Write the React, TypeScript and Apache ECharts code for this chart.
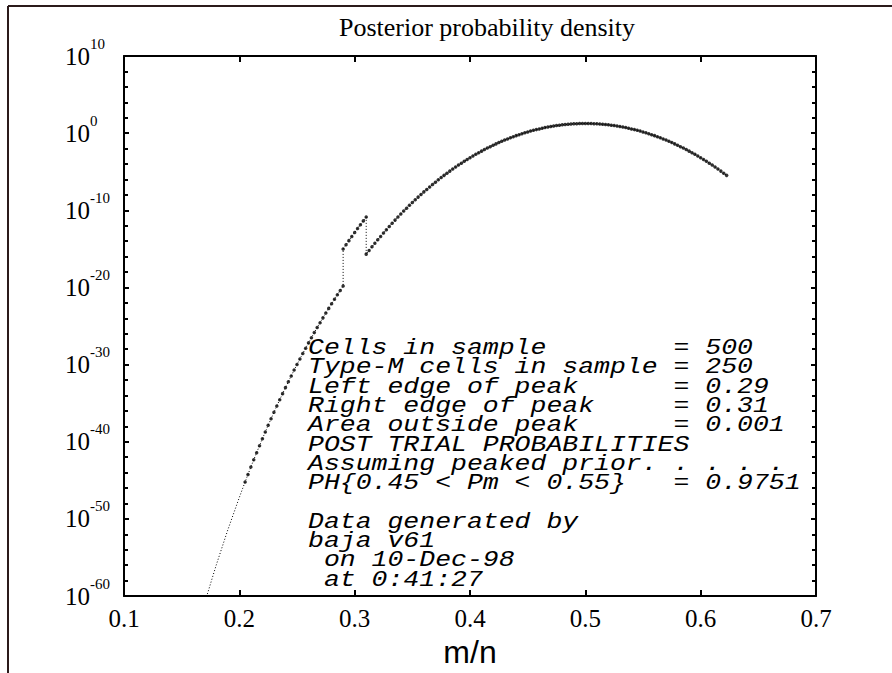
import React, { useEffect, useRef } from "react";
import * as echarts from "echarts";

// m/n grid and log10 of the posterior density
const tailX = [0.17, 0.18, 0.19, 0.2];
const tailY = [-60.85, -55.96, -51.42, -47.21];

const leftX = [
  0.205, 0.2075, 0.21, 0.2125, 0.215, 0.2175, 0.22, 0.2225, 0.225, 0.2275,
  0.23, 0.2325, 0.235, 0.2375, 0.24, 0.2425, 0.245, 0.2475, 0.25, 0.2525,
  0.255, 0.2575, 0.26, 0.2625, 0.265, 0.2675, 0.27, 0.2725, 0.275, 0.2775,
  0.28, 0.2825, 0.285, 0.2875, 0.29,
];
const leftY = [
  -45.2, -44.23, -43.27, -42.33, -41.41, -40.5, -39.61, -38.73, -37.86, -37.02,
  -36.18, -35.36, -34.55, -33.76, -32.98, -32.21, -31.46, -30.71, -29.98, -29.27,
  -28.56, -27.87, -27.18, -26.51, -25.85, -25.2, -24.56, -23.94, -23.32, -22.71,
  -22.11, -21.52, -20.95, -20.38, -19.82,
];

const peakX = [0.29, 0.2925, 0.295, 0.2975, 0.3, 0.3025, 0.305, 0.3075, 0.31];
const peakY = [-15.02, -14.47, -13.93, -13.4, -12.88, -12.37, -11.86, -11.37, -10.88];

const rightX = [
  0.31, 0.3125, 0.315, 0.3175, 0.32, 0.3225, 0.325, 0.3275, 0.33, 0.3325,
  0.335, 0.3375, 0.34, 0.3425, 0.345, 0.3475, 0.35, 0.3525, 0.355, 0.3575,
  0.36, 0.3625, 0.365, 0.3675, 0.37, 0.3725, 0.375, 0.3775, 0.38, 0.3825,
  0.385, 0.3875, 0.39, 0.3925, 0.395, 0.3975, 0.4, 0.4025, 0.405, 0.4075,
  0.41, 0.4125, 0.415, 0.4175, 0.42, 0.4225, 0.425, 0.4275, 0.43, 0.4325,
  0.435, 0.4375, 0.44, 0.4425, 0.445, 0.4475, 0.45, 0.4525, 0.455, 0.4575,
  0.46, 0.4625, 0.465, 0.4675, 0.47, 0.4725, 0.475, 0.4775, 0.48, 0.4825,
  0.485, 0.4875, 0.49, 0.4925, 0.495, 0.4975, 0.5, 0.5025, 0.505, 0.5075,
  0.51, 0.5125, 0.515, 0.5175, 0.52, 0.5225, 0.525, 0.5275, 0.53, 0.5325,
  0.535, 0.5375, 0.54, 0.5425, 0.545, 0.5475, 0.55, 0.5525, 0.555, 0.5575,
  0.56, 0.5625, 0.565, 0.5675, 0.57, 0.5725, 0.575, 0.5775, 0.58, 0.5825,
  0.585, 0.5875, 0.59, 0.5925, 0.595, 0.5975, 0.6, 0.6025, 0.605, 0.6075,
  0.61, 0.6125, 0.615, 0.6175, 0.62, 0.6225,
];
const rightY = [
  -15.68, -15.2, -14.73, -14.27, -13.82, -13.38, -12.94, -12.51, -12.09, -11.67,
  -11.27, -10.87, -10.48, -10.1, -9.72, -9.35, -8.99, -8.64, -8.29, -7.95,
  -7.61, -7.29, -6.97, -6.66, -6.35, -6.05, -5.76, -5.47, -5.19, -4.92,
  -4.65, -4.39, -4.14, -3.89, -3.65, -3.41, -3.18, -2.96, -2.74, -2.53,
  -2.33, -2.13, -1.93, -1.75, -1.57, -1.39, -1.22, -1.06, -0.9, -0.75,
  -0.6, -0.46, -0.32, -0.2, -0.07, 0.05, 0.16, 0.27, 0.37, 0.46,
  0.55, 0.64, 0.72, 0.79, 0.86, 0.92, 0.98, 1.03, 1.08, 1.12,
  1.15, 1.18, 1.21, 1.23, 1.24, 1.25, 1.25, 1.25, 1.24, 1.23,
  1.21, 1.18, 1.15, 1.12, 1.08, 1.03, 0.98, 0.92, 0.86, 0.79,
  0.72, 0.64, 0.55, 0.46, 0.37, 0.27, 0.16, 0.05, -0.07, -0.2,
  -0.32, -0.46, -0.6, -0.75, -0.9, -1.06, -1.22, -1.39, -1.57, -1.75,
  -1.93, -2.13, -2.33, -2.53, -2.74, -2.96, -3.18, -3.41, -3.65, -3.89,
  -4.14, -4.39, -4.65, -4.92, -5.19, -5.47,
];

const titleText = "Posterior probability density";
const xAxisName = "m/n";
const infoLines = [
  "Cells in sample        = 500",
  "Type-M cells in sample = 250",
  "Left edge of peak      = 0.29",
  "Right edge of peak     = 0.31",
  "Area outside peak      = 0.001",
  "POST TRIAL PROBABILITIES",
  "Assuming peaked prior. . . . .",
  "PH{0.45 < Pm < 0.55}   = 0.9751",
  "",
  "Data generated by",
  "baja v61",
  " on 10-Dec-98",
  " at 0:41:27",
];

const serif = "'Liberation Serif', 'Times New Roman', serif";
const mono = "'Liberation Mono', 'Courier New', monospace";
const sans = "'Liberation Sans', Arial, sans-serif";

function pairs(xs: number[], ys: number[]) {
  return xs.map((x, i) => [x, ys[i]]);
}

export default function App() {
  const ref = useRef<HTMLDivElement>(null);
  useEffect(() => {
    document.body.style.margin = "0";
    const chart = echarts.init(ref.current!, null, { renderer: "svg" });
    const marked = [
      ...pairs(leftX, leftY),
      ...pairs(peakX, peakY),
      ...pairs(rightX, rightY),
    ];
    const all = [...pairs(tailX, tailY), ...marked];
    const axisLine = { onZero: false, lineStyle: { color: "#000", width: 2 } };
    const xCommon = {
      type: "value",
      min: 0.1,
      max: 0.7,
      interval: 0.1,
      axisLine,
      axisTick: { inside: true, length: 6, lineStyle: { color: "#000", width: 2 } },
      splitLine: { show: false },
    };
    const yCommon = {
      type: "value",
      min: -60,
      max: 10,
      interval: 10,
      axisLine,
      axisTick: { inside: true, length: 5, lineStyle: { color: "#000", width: 2 } },
      minorTick: { show: true, splitNumber: 5, length: 4, lineStyle: { color: "#000", width: 2 } },
      splitLine: { show: false },
    };
    const monoSize = 23;
    chart.setOption({
      animation: false,
      backgroundColor: "#fff",
      grid: { left: 124, top: 56, right: 76, bottom: 74 },
      xAxis: [
        {
          ...xCommon,
          position: "bottom",
          name: xAxisName,
          nameLocation: "middle",
          nameGap: 34,
          nameTextStyle: { fontFamily: sans, fontSize: 32, color: "#000" },
          axisLabel: {
            color: "#000",
            fontFamily: serif,
            fontSize: 25,
            margin: 10,
            formatter: (v: number) => v.toFixed(1),
          },
        },
        { ...xCommon, position: "top", axisLabel: { show: false } },
      ],
      yAxis: [
        {
          ...yCommon,
          position: "left",
          axisLabel: {
            align: "left",
            margin: 59,
            formatter: (v: number) => `{b|10}{s|${v}}`,
            rich: {
              b: { fontFamily: serif, fontSize: 25, lineHeight: 40, color: "#000" },
              s: { fontFamily: serif, fontSize: 15, lineHeight: 15, verticalAlign: "top", color: "#000" },
            },
          },
        },
        { ...yCommon, position: "right", axisLabel: { show: false } },
      ],
      graphic: [
        {
          type: "line",
          shape: { x1: 8, y1: 6, x2: 892, y2: 6 },
          style: { stroke: "#2b1a1a", lineWidth: 2 },
        },
        {
          type: "line",
          shape: { x1: 8, y1: 6, x2: 8, y2: 673 },
          style: { stroke: "#2b1a1a", lineWidth: 2 },
        },
        {
          type: "text",
          x: 487,
          y: 27,
          style: {
            text: titleText,
            fontFamily: serif,
            fontSize: 26,
            fill: "#000",
            align: "center",
            verticalAlign: "middle",
          },
        },
        {
          type: "text",
          x: 308,
          y: 338,
          scaleX: 26.5 / monoSize,
          style: {
            text: infoLines.join("\n"),
            fontFamily: mono,
            fontStyle: "italic",
            fontSize: monoSize,
            lineHeight: 19.3,
            fill: "#000",
            align: "left",
            verticalAlign: "top",
          },
        },
      ],
      series: [
        {
          type: "line",
          data: all,
          xAxisIndex: 0,
          yAxisIndex: 0,
          showSymbol: false,
          symbol: "none",
          lineStyle: { color: "#000", width: 1, type: [1, 2] },
          silent: true,
        },
        {
          type: "scatter",
          data: marked,
          xAxisIndex: 0,
          yAxisIndex: 0,
          symbol: "circle",
          symbolSize: 3.5,
          itemStyle: { color: "#000" },
          silent: true,
        },
      ],
    });
    return () => chart.dispose();
  }, []);
  return (
    <div
      ref={ref}
      style={{ position: "absolute", left: 0, top: 0, width: 892, height: 673 }}
    />
  );
}
